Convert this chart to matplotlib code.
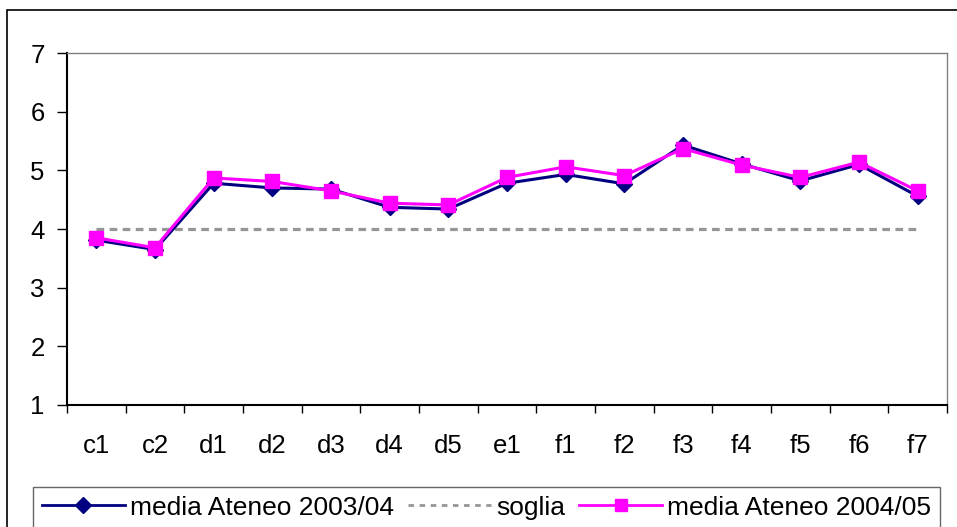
import matplotlib.pyplot as plt
from matplotlib.lines import Line2D
from matplotlib.patches import Rectangle

plt.rcParams['font.family'] = ['Liberation Sans', 'DejaVu Sans']

categorie = ["c1", "c2", "d1", "d2", "d3", "d4", "d5", "e1",
             "f1", "f2", "f3", "f4", "f5", "f6", "f7"]
media_0304 = [3.81, 3.65, 4.78, 4.70, 4.68, 4.37, 4.34, 4.78,
              4.93, 4.77, 5.43, 5.11, 4.82, 5.10, 4.56]
media_0405 = [3.85, 3.68, 4.87, 4.81, 4.65, 4.44, 4.41, 4.88,
              5.06, 4.91, 5.37, 5.09, 4.88, 5.14, 4.65]
soglia = [4] * len(categorie)

fig = plt.figure(figsize=(9.57, 5.27), dpi=100)
# cornice esterna del grafico
fig.patches.append(Rectangle((7 / 957, -0.05), 1.0, 1 - 10 / 527 + 0.05,
                             transform=fig.transFigure, fill=False,
                             edgecolor='black', linewidth=1.2))
ax = fig.add_axes([67 / 957, 1 - 405 / 527, 880 / 957, 352 / 527])

x = range(len(categorie))
ax.plot(x, media_0304, color='#000080', marker='D', markersize=8.5,
        linewidth=2.2, label='media Ateneo 2003/04')
ax.plot(x, soglia, color='#969696', linestyle=(0, (2.4, 1.7)), linewidth=2.3,
        label='soglia', zorder=1)
ax.plot(x, media_0405, color='#FF00FF', marker='s', markersize=9.5,
        linewidth=2.2, label='media Ateneo 2004/05')

ax.set_xlim(-0.5, len(categorie) - 0.5)
ax.set_ylim(1, 7)
ax.set_yticks(range(1, 8))
ax.set_xticks(list(x))
ax.set_xticklabels(categorie)
ax.set_xticks([i - 0.5 for i in range(len(categorie) + 1)], minor=True)
ax.tick_params(axis='x', which='major', length=0, pad=21, labelsize=18.5)
ax.tick_params(axis='x', which='minor', length=6, width=1)
ax.tick_params(axis='y', length=7, width=1, pad=9, labelsize=18.5)

for s in ['top', 'right']:
    ax.spines[s].set_color('#808080')
    ax.spines[s].set_linewidth(1)
for s in ['left', 'bottom']:
    ax.spines[s].set_linewidth(1.5)

handles = [
    Line2D([], [], color='#000080', marker='D', markersize=8, linewidth=2),
    Line2D([], [], color='#969696', linestyle=(0, (2, 2)), linewidth=2),
    Line2D([], [], color='#FF00FF', marker='s', markersize=8.5, linewidth=2),
]
leg = fig.legend(handles, ['media Ateneo 2003/04', 'soglia', 'media Ateneo 2004/05'],
                 loc='upper left', bbox_to_anchor=(33 / 957, 1 - 487 / 527), ncol=3,
                 fontsize=19, frameon=True, fancybox=False, handlelength=3.15,
                 handletextpad=0.19, columnspacing=0.53, borderpad=0.33,
                 borderaxespad=0)
leg.get_frame().set_edgecolor('#404040')
leg.get_frame().set_linewidth(1)

fig.savefig('out.png', dpi=100)
